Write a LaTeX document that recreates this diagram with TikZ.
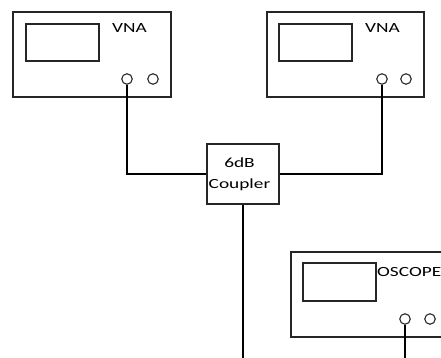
\documentclass[tikz,border=0pt]{standalone}
\usepackage{fontspec}
\setmainfont{Carlito}
\begin{document}
\begin{tikzpicture}[x=1pt,y=-1pt,
  frame/.style={draw=black!85,line width=1.2pt},
  screen/.style={draw=black!85,line width=1.2pt},
  port/.style={circle,draw=black!85,line width=1.1pt,minimum size=10.5pt,inner sep=0pt},
  wire/.style={draw=black,line width=1.2pt},
  lbl/.style={inner sep=0pt,font=\fontsize{14}{16}\selectfont},
  ]
  \useasboundingbox (0,0) rectangle (441,358);
  \clip (0,0) rectangle (441,358);
  \fill[white] (0,0) rectangle (441,358);

  % left VNA
  \draw[frame] (13,12) rectangle (171,97);
  \draw[screen] (26,24) rectangle (99,61);
  \node[lbl] (vna1) at (129.5,28.5) {\scalebox{1.38}[1]{VNA}};
  \node[port] (p1a) at (127,79) {};
  \node[port] (p1b) at (153,79) {};

  % right VNA
  \draw[frame] (267,12) rectangle (424,97);
  \draw[screen] (279,24) rectangle (352,61);
  \node[lbl] (vna2) at (382.5,28.5) {\scalebox{1.38}[1]{VNA}};
  \node[port] (p2a) at (382,79) {};
  \node[port] (p2b) at (406,79) {};

  % coupler
  \node[draw=black!85,line width=1.2pt,minimum width=72pt,minimum height=60pt,inner sep=0pt] (cpl) at (243,174) {};
  \node[lbl] (cpltxt1) at (239.5,162.5) {\scalebox{1.38}[1]{6dB}};
  \node[lbl] (cpltxt2) at (239.5,185) {\scalebox{1.38}[1]{Coupler}};

  % oscilloscope
  \draw[frame] (291,252) rectangle (460,337);
  \draw[screen] (303,263) rectangle (376,301);
  \node[lbl,anchor=west] (osc) at (377,272.5) {\scalebox{1.38}[1]{OSCOPE}};
  \node[port] (p3a) at (405,319) {};
  \node[port] (p3b) at (430,319) {};

  \coordinate (bot1) at (243,358);
  \coordinate (bot2) at (405,358);

  % cables
  \draw[wire] (p1a.south) |- (cpl.west);
  \draw[wire] (cpl.east) -| (p2a.south);
  \draw[wire] (cpl.south) -- (bot1);
  \draw[wire] (p3a.south) -- (bot2);
\end{tikzpicture}
\end{document}
